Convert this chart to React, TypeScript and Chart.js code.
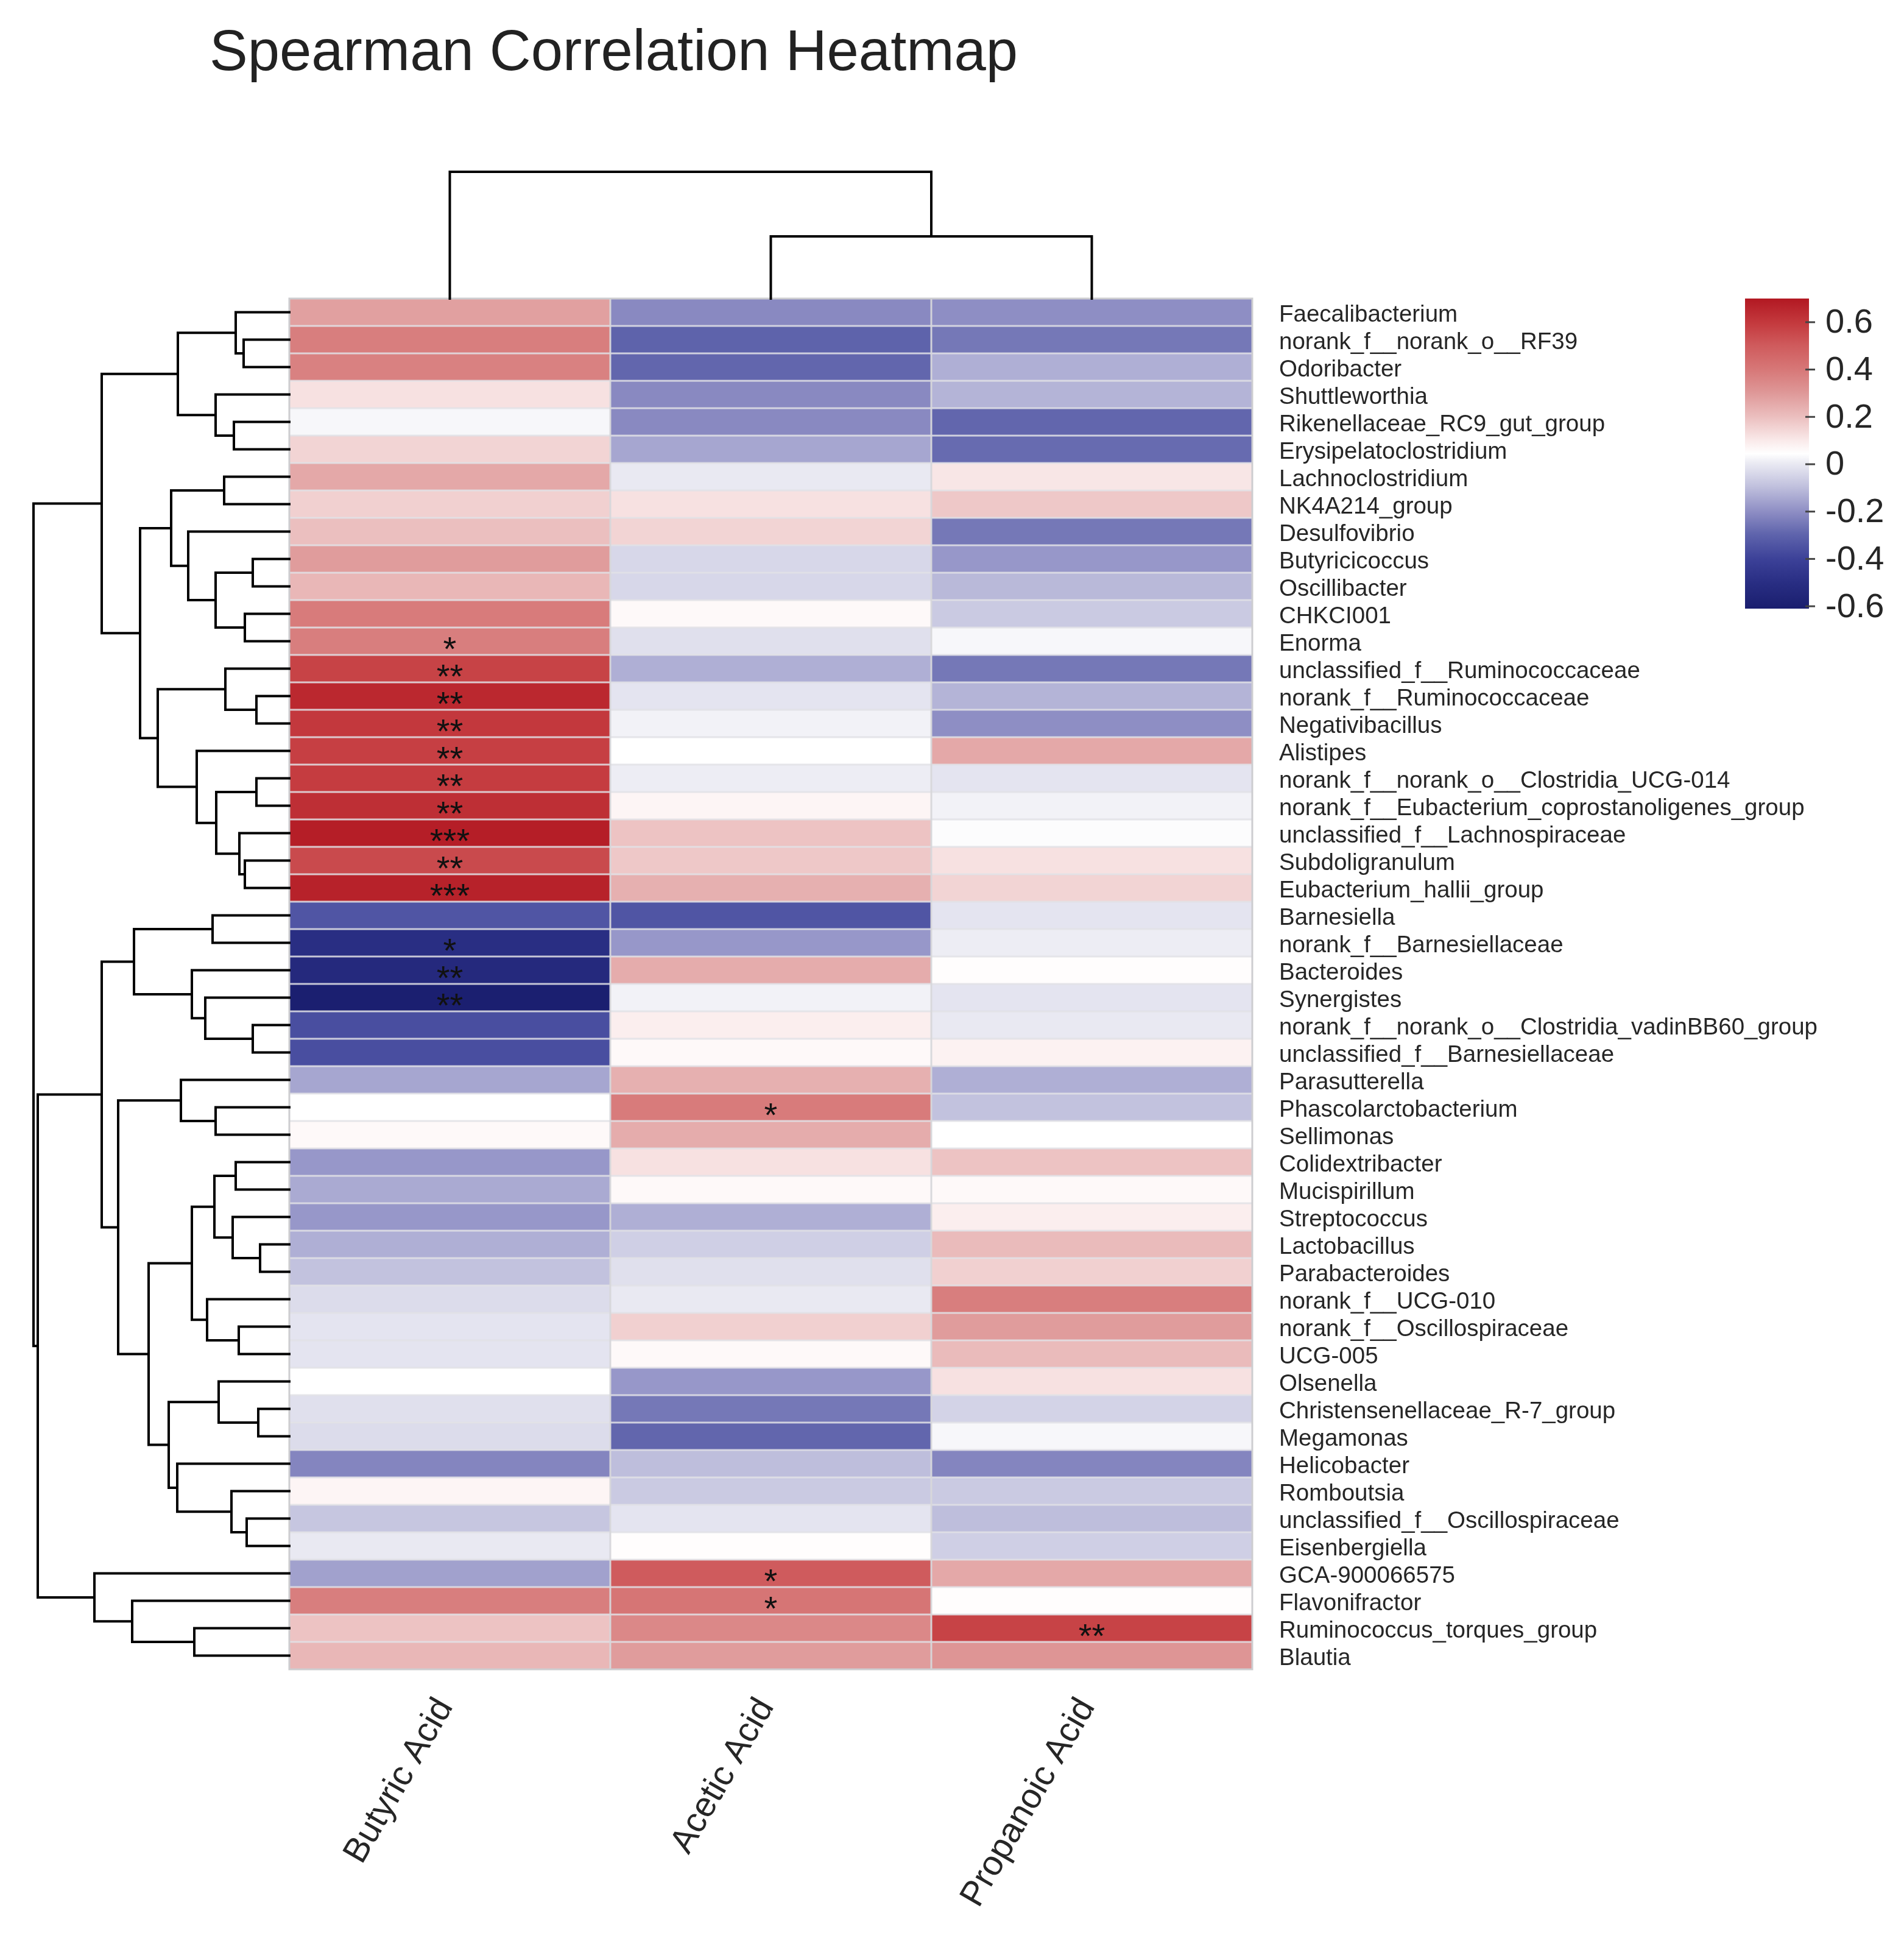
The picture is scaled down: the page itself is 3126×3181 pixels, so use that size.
import React, { useEffect, useRef } from "react";
import { Chart, registerables } from "chart.js";

Chart.register(...registerables);

// ---------------- data ----------------
const chartTitle = "Spearman Correlation Heatmap";

const acids = ["Butyric Acid", "Acetic Acid", "Propanoic Acid"];

const taxa = [
  "Faecalibacterium",
  "norank_f__norank_o__RF39",
  "Odoribacter",
  "Shuttleworthia",
  "Rikenellaceae_RC9_gut_group",
  "Erysipelatoclostridium",
  "Lachnoclostridium",
  "NK4A214_group",
  "Desulfovibrio",
  "Butyricicoccus",
  "Oscillibacter",
  "CHKCI001",
  "Enorma",
  "unclassified_f__Ruminococcaceae",
  "norank_f__Ruminococcaceae",
  "Negativibacillus",
  "Alistipes",
  "norank_f__norank_o__Clostridia_UCG-014",
  "norank_f__Eubacterium_coprostanoligenes_group",
  "unclassified_f__Lachnospiraceae",
  "Subdoligranulum",
  "Eubacterium_hallii_group",
  "Barnesiella",
  "norank_f__Barnesiellaceae",
  "Bacteroides",
  "Synergistes",
  "norank_f__norank_o__Clostridia_vadinBB60_group",
  "unclassified_f__Barnesiellaceae",
  "Parasutterella",
  "Phascolarctobacterium",
  "Sellimonas",
  "Colidextribacter",
  "Mucispirillum",
  "Streptococcus",
  "Lactobacillus",
  "Parabacteroides",
  "norank_f__UCG-010",
  "norank_f__Oscillospiraceae",
  "UCG-005",
  "Olsenella",
  "Christensenellaceae_R-7_group",
  "Megamonas",
  "Helicobacter",
  "Romboutsia",
  "unclassified_f__Oscillospiraceae",
  "Eisenbergiella",
  "GCA-900066575",
  "Flavonifractor",
  "Ruminococcus_torques_group",
  "Blautia",
];

const butyric = [
  0.28, 0.38, 0.37, 0.12, 0.03, 0.15, 0.26, 0.16, 0.2, 0.29,
  0.22, 0.39, 0.38, 0.57, 0.65, 0.6, 0.58, 0.59, 0.63, 0.68,
  0.55, 0.67, -0.34, -0.5, -0.53, -0.6, -0.36, -0.36, -0.15, 0.045,
  0.06, -0.18, -0.14, -0.18, -0.13, -0.09, -0.03, -0.01, -0.01, 0.045,
  -0.02, -0.03, -0.22, 0.07, -0.08, 0.0, -0.16, 0.38, 0.19, 0.22,
];

const acetic = [
  -0.21, -0.3, -0.29, -0.21, -0.21, -0.15, 0.0, 0.12, 0.15, -0.04,
  -0.04, 0.06, -0.02, -0.13, -0.01, 0.02, 0.045, 0.01, 0.07, 0.19,
  0.18, 0.24, -0.34, -0.18, 0.25, 0.02, 0.09, 0.06, 0.24, 0.39,
  0.25, 0.12, 0.06, -0.13, -0.06, -0.02, 0.0, 0.16, 0.06, -0.18,
  -0.25, -0.29, -0.1, -0.07, -0.01, 0.05, 0.5, 0.41, 0.35, 0.29,
];

const propanoic = [
  -0.2, -0.25, -0.13, -0.12, -0.29, -0.28, 0.11, 0.18, -0.25, -0.18,
  -0.11, -0.07, 0.03, -0.25, -0.12, -0.2, 0.26, -0.01, 0.02, 0.04,
  0.12, 0.15, -0.01, 0.01, 0.05, -0.01, 0.0, 0.08, -0.13, -0.09,
  0.045, 0.19, 0.06, 0.09, 0.21, 0.16, 0.38, 0.29, 0.21, 0.12,
  -0.05, 0.03, -0.22, -0.07, -0.1, -0.06, 0.26, 0.05, 0.57, 0.31,
];

// significance marks: [row index, mark]
const butyricStars: [number, string][] = [
  [12, "*"], [13, "**"], [14, "**"], [15, "**"], [16, "**"], [17, "**"],
  [18, "**"], [19, "***"], [20, "**"], [21, "***"], [23, "*"], [24, "**"], [25, "**"],
];
const aceticStars: [number, string][] = [[29, "*"], [46, "*"], [47, "*"]];
const propanoicStars: [number, string][] = [[48, "**"]];

// hierarchical clustering (scipy-like): [childA, childB, height]; node ids start after the leaves
const rowLinkage: [number, number, number][] = [
  [1, 2, 0.75], [0, 50, 0.88], [4, 5, 0.91], [3, 52, 1.21], [51, 53, 1.83],
  [6, 7, 1.07], [9, 10, 0.6], [11, 12, 0.73], [56, 57, 1.21], [8, 58, 1.66],
  [55, 59, 1.94], [14, 15, 0.54], [13, 61, 1.05], [17, 18, 0.54], [20, 21, 0.73],
  [19, 64, 0.82], [63, 65, 1.2], [16, 66, 1.52], [62, 67, 2.16], [60, 68, 2.45],
  [54, 69, 3.08], [22, 23, 1.26], [26, 27, 0.6], [25, 72, 1.38], [24, 73, 1.6],
  [71, 74, 2.55], [29, 30, 1.21], [28, 76, 1.78], [31, 32, 0.88], [34, 35, 0.48],
  [33, 79, 0.93], [78, 80, 1.23], [37, 38, 0.83], [36, 82, 1.35], [81, 83, 1.6],
  [40, 41, 0.51], [39, 85, 1.16], [44, 45, 0.7], [43, 87, 0.95], [42, 88, 1.84],
  [86, 89, 1.98], [84, 90, 2.31], [77, 91, 2.81], [75, 92, 3.08], [48, 49, 1.56],
  [47, 94, 2.58], [46, 95, 3.2], [93, 96, 4.13], [70, 97, 4.2],
];
const colLinkage: [number, number, number][] = [
  [1, 2, 1.02],
  [0, 3, 2.08],
];

const cbMin = -0.61;
const cbMax = 0.7;
const cbTicks = [0.6, 0.4, 0.2, 0, -0.2, -0.4, -0.6];

// colormap stops [t, r, g, b]
const cmapStops: [number, number, number, number][] = [
  [0.0, 26, 30, 110],
  [0.08, 40, 45, 130],
  [0.16, 60, 65, 152],
  [0.24, 95, 100, 172],
  [0.31, 140, 140, 195],
  [0.39, 190, 190, 220],
  [0.47, 235, 235, 243],
  [0.5, 255, 255, 255],
  [0.54, 250, 235, 235],
  [0.62, 235, 190, 190],
  [0.7, 222, 150, 150],
  [0.77, 215, 120, 120],
  [0.85, 207, 90, 92],
  [0.92, 196, 58, 62],
  [1.0, 178, 24, 34],
];

// ---------------- layout ----------------
const W = 3126;
const H = 3181;
const HM_LEFT = 475;
const HM_RIGHT = 2056;
const HM_TOP = 490;
const HM_BOTTOM = 2740;
const AREA_LEFT = 30;
const AREA_TOP = 250;
const DENDRO_PX = 100; // pixels per unit of linkage height
const FONT = '"Liberation Sans", Arial, Helvetica, sans-serif';
const TEXT_COLOR = "#262626";

const nRows = taxa.length;
const nCols = acids.length;
const colW = (HM_RIGHT - HM_LEFT) / nCols;
const rowH = (HM_BOTTOM - HM_TOP) / nRows;

function cmap(v: number): string {
  let t = (v - cbMin) / (cbMax - cbMin);
  t = Math.max(0, Math.min(1, t));
  for (let i = 1; i < cmapStops.length; i++) {
    const a = cmapStops[i - 1];
    const b = cmapStops[i];
    if (t <= b[0]) {
      const f = (t - a[0]) / (b[0] - a[0]);
      const r = Math.round(a[1] + (b[1] - a[1]) * f);
      const g = Math.round(a[2] + (b[2] - a[2]) * f);
      const bl = Math.round(a[3] + (b[3] - a[3]) * f);
      return `rgb(${r},${g},${bl})`;
    }
  }
  const l = cmapStops[cmapStops.length - 1];
  return `rgb(${l[1]},${l[2]},${l[3]})`;
}

type Seg = { pos: number; h: number }[];

function dendroSegments(linkage: [number, number, number][], nLeaves: number): Seg[] {
  const pos: number[] = [];
  const hei: number[] = [];
  for (let i = 0; i < nLeaves; i++) {
    pos[i] = i + 0.5;
    hei[i] = 0;
  }
  const segs: Seg[] = [];
  linkage.forEach(([a, b, h], k) => {
    const id = nLeaves + k;
    pos[id] = (pos[a] + pos[b]) / 2;
    hei[id] = h;
    segs.push([
      { pos: pos[a], h: hei[a] },
      { pos: pos[a], h },
      { pos: pos[b], h },
      { pos: pos[b], h: hei[b] },
    ]);
  });
  return segs;
}

export default function App() {
  const ref = useRef<HTMLCanvasElement | null>(null);

  useEffect(() => {
    const canvas = ref.current;
    if (!canvas) return;

    const columns = [butyric, acetic, propanoic];
    const stars = [butyricStars, aceticStars, propanoicStars];

    const rowSegs = dendroSegments(rowLinkage, nRows);
    const colSegs = dendroSegments(colLinkage, nCols);

    const lineStyle = {
      showLine: true,
      borderColor: "#000000",
      borderWidth: 4,
      pointRadius: 0,
      pointHoverRadius: 0,
      fill: false,
      tension: 0,
      clip: false as const,
      borderJoinStyle: "miter" as const,
      borderCapStyle: "square" as const,
    };

    const datasets: any[] = [];
    rowSegs.forEach((s) =>
      datasets.push({
        ...lineStyle,
        data: s.map((p) => ({ x: (-p.h * DENDRO_PX) / colW, y: p.pos })),
      })
    );
    colSegs.forEach((s) =>
      datasets.push({
        ...lineStyle,
        data: s.map((p) => ({ x: p.pos, y: (-p.h * DENDRO_PX) / rowH })),
      })
    );

    const heatmapPlugin = {
      id: "heatmapLayers",
      beforeDatasetsDraw(chart: any) {
        const ctx = chart.ctx as CanvasRenderingContext2D;
        const xs = chart.scales.x;
        const ys = chart.scales.y;
        ctx.save();
        // cells
        for (let j = 0; j < nCols; j++) {
          const x0 = xs.getPixelForValue(j);
          const x1 = xs.getPixelForValue(j + 1);
          for (let i = 0; i < nRows; i++) {
            const y0 = ys.getPixelForValue(i);
            const y1 = ys.getPixelForValue(i + 1);
            ctx.fillStyle = cmap(columns[j][i]);
            ctx.fillRect(x0, y0, x1 - x0, y1 - y0);
          }
        }
        // separators
        const left = xs.getPixelForValue(0);
        const right = xs.getPixelForValue(nCols);
        const top = ys.getPixelForValue(0);
        const bottom = ys.getPixelForValue(nRows);
        ctx.strokeStyle = "rgba(226,226,230,0.85)";
        ctx.lineWidth = 3;
        for (let i = 1; i < nRows; i++) {
          const y = ys.getPixelForValue(i);
          ctx.beginPath();
          ctx.moveTo(left, y);
          ctx.lineTo(right, y);
          ctx.stroke();
        }
        ctx.strokeStyle = "rgba(215,215,218,0.95)";
        for (let j = 1; j < nCols; j++) {
          const x = xs.getPixelForValue(j);
          ctx.beginPath();
          ctx.moveTo(x, top);
          ctx.lineTo(x, bottom);
          ctx.stroke();
        }
        ctx.strokeStyle = "rgb(205,205,208)";
        ctx.lineWidth = 3;
        ctx.strokeRect(left, top, right - left, bottom - top);

        // significance marks
        const starSize = 56;
        ctx.fillStyle = "#111111";
        ctx.font = `${starSize}px ${FONT}`;
        ctx.textAlign = "center";
        ctx.textBaseline = "alphabetic";
        stars.forEach((list, j) => {
          const cx = xs.getPixelForValue(j + 0.5);
          list.forEach(([row, mark]) => {
            const cy = ys.getPixelForValue(row + 0.5);
            ctx.fillText(mark, cx, cy + starSize * 0.57);
          });
        });
        ctx.restore();
      },
      afterDraw(chart: any) {
        const ctx = chart.ctx as CanvasRenderingContext2D;
        const xs = chart.scales.x;
        const ys = chart.scales.y;
        ctx.save();

        // title
        ctx.fillStyle = "#222222";
        ctx.font = `94px ${FONT}`;
        ctx.textAlign = "left";
        ctx.textBaseline = "alphabetic";
        ctx.fillText(chartTitle, 344, 115);

        // row labels
        ctx.fillStyle = TEXT_COLOR;
        ctx.font = `38.5px ${FONT}`;
        const labelX = xs.getPixelForValue(nCols) + 44;
        taxa.forEach((name, i) => {
          const cy = ys.getPixelForValue(i + 0.5);
          ctx.fillText(name, labelX, cy + 15.5);
        });

        // column labels (rotated)
        ctx.font = `57px ${FONT}`;
        ctx.textAlign = "right";
        const angle = (60 * Math.PI) / 180;
        acids.forEach((name, j) => {
          const cx = xs.getPixelForValue(j + 0.5) + 6;
          const cy = ys.getPixelForValue(nRows) + 61;
          ctx.save();
          ctx.translate(cx, cy);
          ctx.rotate(-angle);
          ctx.fillText(name, 0, 0);
          ctx.restore();
        });

        // colour bar
        const cbL = 2865;
        const cbR = 2970;
        const cbT = 490;
        const cbB = 999;
        const grad = ctx.createLinearGradient(0, cbB, 0, cbT);
        cmapStops.forEach(([t, r, g, b]) => grad.addColorStop(t, `rgb(${r},${g},${b})`));
        ctx.fillStyle = grad;
        ctx.fillRect(cbL, cbT, cbR - cbL, cbB - cbT);
        ctx.strokeStyle = "#444444";
        ctx.lineWidth = 3;
        ctx.fillStyle = TEXT_COLOR;
        ctx.font = `56px ${FONT}`;
        ctx.textAlign = "left";
        ctx.textBaseline = "middle";
        cbTicks.forEach((v) => {
          const y = cbB - ((v - cbMin) / (cbMax - cbMin)) * (cbB - cbT);
          ctx.beginPath();
          ctx.moveTo(cbR - 6, y);
          ctx.lineTo(cbR + 10, y);
          ctx.stroke();
          const txt = v === 0 ? "0" : v.toFixed(1);
          ctx.fillText(txt, 2997, y + 2);
        });
        ctx.restore();
      },
    };

    const chart = new Chart(canvas, {
      type: "scatter",
      data: { datasets },
      options: {
        animation: false,
        responsive: false,
        devicePixelRatio: 1,
        events: [],
        layout: {
          padding: {
            left: AREA_LEFT,
            top: AREA_TOP,
            right: W - HM_RIGHT,
            bottom: H - HM_BOTTOM,
          },
        },
        plugins: {
          legend: { display: false },
          tooltip: { enabled: false },
          title: { display: false },
        },
        scales: {
          x: {
            type: "linear",
            display: false,
            min: -(HM_LEFT - AREA_LEFT) / colW,
            max: nCols,
          },
          y: {
            type: "linear",
            display: false,
            reverse: true,
            min: -(HM_TOP - AREA_TOP) / rowH,
            max: nRows,
          },
        },
      },
      plugins: [heatmapPlugin],
    });

    return () => chart.destroy();
  }, []);

  return (
    <canvas
      ref={ref}
      width={W}
      height={H}
      style={{ position: "fixed", left: 0, top: 0, width: W, height: H, background: "#ffffff" }}
    />
  );
}
